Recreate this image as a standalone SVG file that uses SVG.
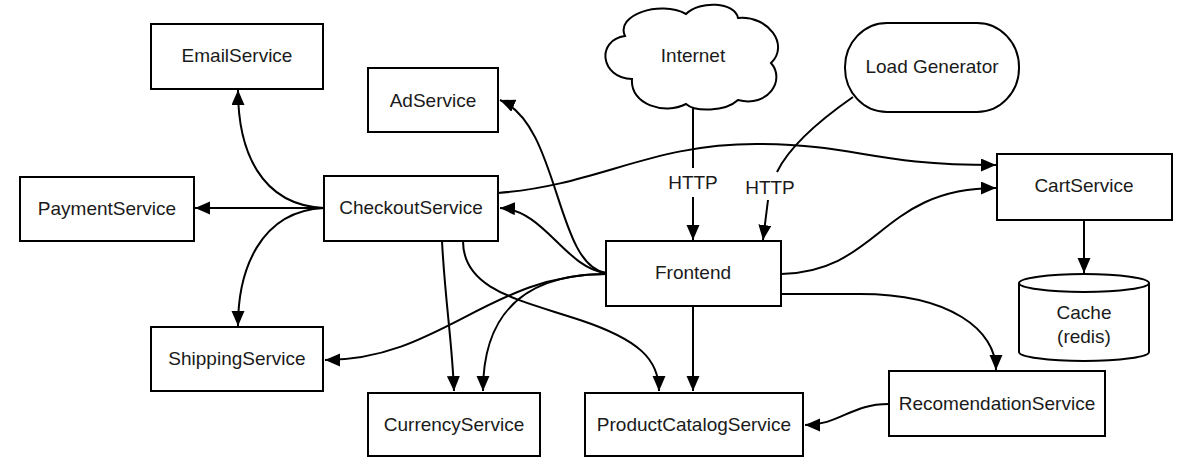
<svg xmlns="http://www.w3.org/2000/svg" width="1200" height="470" viewBox="0 0 1200 470">
<style>
.box{fill:#fff;stroke:#000;stroke-width:2}
.t{font-family:"Liberation Sans",Arial,sans-serif;font-size:19px;fill:#1a1a1a;text-anchor:middle;dominant-baseline:central}
.c{fill:none;stroke:#000;stroke-width:2}
</style>
<defs>
<marker id="ah" markerUnits="userSpaceOnUse" markerWidth="16" markerHeight="14" refX="15" refY="6.5" orient="auto">
<path d="M0,0 L15,6.5 L0,13 Z" fill="#000"/>
</marker>
</defs>
<rect width="1200" height="470" fill="#fff"/>
<g id="connectors">
<path class="c" d="M693,107 L693,168 M693,197 L693,240" marker-end="url(#ah)"/>
<path class="c" d="M853,97 C 820,120 790,145 777,172 M768,200 L763,240" marker-end="url(#ah)"/>
<path class="c" d="M606,273 C 565,268 545,210 500,208" marker-end="url(#ah)"/>
<path class="c" d="M606,273 C 555,265 560,125 500,100" marker-end="url(#ah)"/>
<path class="c" d="M606,274 C 490,274 440,360 325,360" marker-end="url(#ah)"/>
<path class="c" d="M606,274 C 540,274 483,300 483,391" marker-end="url(#ah)"/>
<path class="c" d="M693,306 L693,391" marker-end="url(#ah)"/>
<path class="c" d="M781,274 C 880,272 880,188 996,188" marker-end="url(#ah)"/>
<path class="c" d="M781,294 L860,294 C 950,294 996,330 996,370" marker-end="url(#ah)"/>
<path class="c" d="M498,193 C 600,185 650,143 760,144 C 860,145 870,165 996,165" marker-end="url(#ah)"/>
<path class="c" d="M324,208 C 260,205 238,150 238,90" marker-end="url(#ah)"/>
<path class="c" d="M324,208 L195,208" marker-end="url(#ah)"/>
<path class="c" d="M324,208 C 260,211 238,270 238,326" marker-end="url(#ah)"/>
<path class="c" d="M442,241 C 445,300 452,340 454,391" marker-end="url(#ah)"/>
<path class="c" d="M463,241 C 463,290 520,300 580,320 C 640,340 659,360 659,391" marker-end="url(#ah)"/>
<path class="c" d="M889,404 C 850,404 840,425 805,425" marker-end="url(#ah)"/>
<path class="c" d="M1084,220 L1084,273" marker-end="url(#ah)"/>
</g>
<text class="t" x="693" y="182">HTTP</text>
<text class="t" x="770" y="187">HTTP</text>
<g id="internet">
<path class="box" d="M625,36 C 615,15 660,0 686,14 C 700,0 735,2 738,18 C 768,15 790,45 771,63 C 786,80 768,108 738,100 C 725,112 695,112 686,104 C 665,115 630,105 632,79 C 600,78 596,40 625,36 Z"/>
<text class="t" x="693" y="55">Internet</text>
</g>
<g id="loadgen">
<rect class="box" x="845" y="23" width="174" height="89" rx="42" ry="44"/>
<text class="t" x="932" y="66">Load Generator</text>
</g>
<g id="email">
<rect class="box" x="151" y="24" width="172" height="65"/>
<text class="t" x="237" y="55">EmailService</text>
</g>
<g id="ad">
<rect class="box" x="368" y="68" width="130" height="64"/>
<text class="t" x="433" y="100">AdService</text>
</g>
<g id="payment">
<rect class="box" x="20" y="177" width="174" height="64"/>
<text class="t" x="107" y="208">PaymentService</text>
</g>
<g id="checkout">
<rect class="box" x="324" y="176" width="174" height="65"/>
<text class="t" x="411" y="207">CheckoutService</text>
</g>
<g id="shipping">
<rect class="box" x="151" y="327" width="172" height="64"/>
<text class="t" x="237" y="358">ShippingService</text>
</g>
<g id="currency">
<rect class="box" x="368" y="393" width="172" height="63"/>
<text class="t" x="454" y="424">CurrencyService</text>
</g>
<g id="productcatalog">
<rect class="box" x="585" y="393" width="218" height="63"/>
<text class="t" x="694" y="424">ProductCatalogService</text>
</g>
<g id="frontend">
<rect class="box" x="606" y="241" width="175" height="65"/>
<text class="t" x="693" y="272">Frontend</text>
</g>
<g id="cart">
<rect class="box" x="997" y="154" width="175" height="66"/>
<text class="t" x="1084" y="185">CartService</text>
</g>
<g id="cache">
<path class="box" d="M1019,283 A65,9 0 0,1 1149,283 L1149,352 A65,9 0 0,1 1019,352 Z"/>
<path class="c" d="M1019,283 A65,9 0 0,0 1149,283"/>
<text class="t" x="1084" y="312">Cache</text>
<text class="t" x="1084" y="336">(redis)</text>
</g>
<g id="recommendation">
<rect class="box" x="889" y="371" width="216" height="65"/>
<text class="t" x="997" y="403">RecomendationService</text>
</g>
</svg>
